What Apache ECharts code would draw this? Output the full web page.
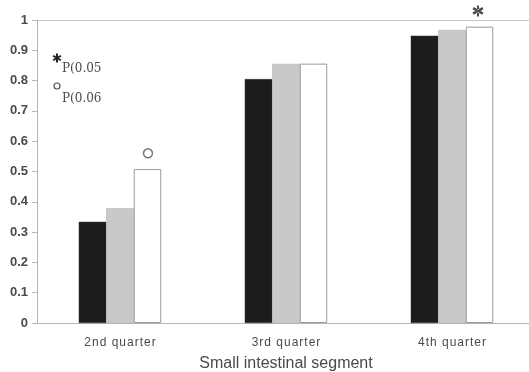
<!DOCTYPE html>
<html><head><meta charset="utf-8">
<script src="https://cdn.jsdelivr.net/npm/echarts@6/dist/echarts.min.js"></script>
<style>html,body{margin:0;padding:0;background:#fff}#c{width:529px;height:372px}</style>
</head><body><div id="c"></div>
<script>
var categories = ['2nd quarter', '3rd quarter', '4th quarter'];
var blackValues = [0.334, 0.805, 0.948];
var grayValues = [0.379, 0.855, 0.967];
var whiteValues = [0.508, 0.856, 0.978];
var circleMarks = [0.56, null, null];
var starMarks = [null, null, 1.03];
var yTicks = [0, 0.1, 0.2, 0.3, 0.4, 0.5, 0.6, 0.7, 0.8, 0.9, 1];
var keyTexts = ['P(0.05', 'P(0.06'];

var STAR = 'path://M4.1,0L5.9,0L5.9,10L4.1,10Z M8.78,8.45L9.88,6.55L1.22,1.55L0.12,3.45Z M0.12,6.55L1.22,8.45L9.88,3.45L8.78,1.55Z';
var axisCol = '#b5b5b5';
var textCol = '#4a4a4a';

function spokes(cx, cy, r, w) {
  var out = [];
  [90, 30, 150].forEach(function (a) {
    var t = a * Math.PI / 180, dx = Math.cos(t), dy = Math.sin(t), nx = -dy, ny = dx;
    out.push({type: 'polygon', shape: {points: [
      [cx + r * dx + w * nx, cy + r * dy + w * ny],
      [cx + r * dx - w * nx, cy + r * dy - w * ny],
      [cx - r * dx - w * nx, cy - r * dy - w * ny],
      [cx - r * dx + w * nx, cy - r * dy + w * ny]]}, style: {fill: '#222'}});
  });
  return out;
}

var chart = echarts.init(document.getElementById('c'), null, {renderer: 'canvas'});
chart.setOption({
  animation: false,
  backgroundColor: '#ffffff',
  grid: {left: 37, top: 20, right: -6, bottom: 49, containLabel: false, outerBoundsMode: 'none'},
  xAxis: [{
    type: 'category', data: categories, position: 'bottom',
    axisLine: {lineStyle: {color: axisCol, width: 1}},
    axisTick: {alignWithLabel: true, length: 4, lineStyle: {color: axisCol}},
    axisLabel: {color: textCol, fontFamily: 'Liberation Sans, Arial', fontSize: 12, margin: 14,
      formatter: function (v) { return v.split('').join('\u200A'); }},
    name: 'Small intestinal segment', nameLocation: 'middle', nameGap: 33,
    nameTextStyle: {color: textCol, fontFamily: 'Liberation Sans, Arial', fontSize: 16}
  }, {
    type: 'category', data: categories, position: 'top',
    axisLine: {lineStyle: {color: '#c8c8c8', width: 1}},
    axisTick: {show: false}, axisLabel: {show: false}
  }],
  yAxis: {
    type: 'value', min: 0, max: 1, interval: 0.1,
    axisLine: {show: true, lineStyle: {color: axisCol}},
    axisTick: {show: true, length: 5, lineStyle: {color: axisCol}},
    splitLine: {show: false},
    axisLabel: {color: textCol, fontFamily: 'Liberation Sans, Arial', fontSize: 13, fontWeight: 'bold', margin: 9,
      formatter: function (v) { var r = Math.round(v * 10) / 10; return yTicks.indexOf(r) >= 0 ? String(r) : ''; }}
  },
  series: [
    {type: 'bar', data: blackValues, barWidth: 27.5, barGap: '0%',
     itemStyle: {color: '#1c1c1c', borderColor: '#333', borderWidth: 0.5}},
    {type: 'bar', data: grayValues, barWidth: 27.5, barGap: '0%',
     itemStyle: {color: '#c9c9c9', borderColor: '#aaa', borderWidth: 0.5}},
    {type: 'bar', data: whiteValues, barWidth: 27.5, barGap: '0%',
     itemStyle: {color: '#ffffff', borderColor: '#9a9a9a', borderWidth: 1}},
    {type: 'scatter', data: circleMarks, symbol: 'circle', symbolSize: 9, symbolOffset: [28, 0], clip: false,
     itemStyle: {color: '#fff', borderColor: '#555', borderWidth: 1.5}, z: 5},
    {type: 'scatter', data: starMarks, symbol: STAR, symbolSize: 11, symbolOffset: [26, 0], clip: false,
     itemStyle: {color: '#222'}, z: 5}
  ],
  graphic: spokes(57, 58, 4.5, 1).concat([
    {type: 'text', left: 62, top: 63, style: {text: keyTexts[0], fill: textCol, font: '12px "DejaVu Serif", serif'}},
    {type: 'circle', shape: {cx: 57, cy: 86, r: 3}, style: {fill: '#fff', stroke: '#555', lineWidth: 1.2}},
    {type: 'text', left: 62, top: 93, style: {text: keyTexts[1], fill: textCol, font: '12px "DejaVu Serif", serif'}}
  ])
});
</script></body></html>
